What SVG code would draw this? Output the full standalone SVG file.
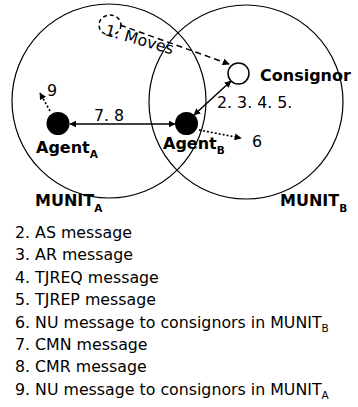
<svg xmlns="http://www.w3.org/2000/svg" width="358" height="407" viewBox="0 0 358 407">
<defs>
<marker id="ah" viewBox="0 0 10 10" refX="9" refY="5" markerWidth="7" markerHeight="7" markerUnits="userSpaceOnUse" orient="auto-start-reverse">
<path d="M0,0 L10,5 L0,10 Z" fill="#000"/>
</marker>
<style>
.t{font-family:"DejaVu Sans","Verdana",sans-serif;font-size:15.8px;fill:#000}
.b{font-family:"DejaVu Sans","Verdana",sans-serif;font-size:16px;font-weight:bold;fill:#000}
.sub{font-size:10.5px}
.zone{fill:none;stroke:#000;stroke-width:1.2}
.solid{fill:none;stroke:#000;stroke-width:1.5}
.dot{fill:none;stroke:#000;stroke-width:1.6;stroke-dasharray:2,2}
.dash{fill:none;stroke:#000;stroke-width:1.5;stroke-dasharray:6,4}
</style>
</defs>
<rect width="358" height="407" fill="#fff"/>
<g id="munitA">
<circle class="zone" cx="109" cy="101" r="97"/>
<text class="b" x="35" y="206">MUNIT<tspan class="sub" dy="6">A</tspan></text>
</g>
<g id="munitB">
<circle class="zone" cx="246" cy="102" r="97"/>
<text class="b" x="280" y="206">MUNIT<tspan class="sub" dy="6">B</tspan></text>
</g>
<g id="connectors">
<line class="solid" x1="70" y1="124" x2="175" y2="124" marker-start="url(#ah)" marker-end="url(#ah)"/>
<line class="solid" x1="194" y1="115" x2="231" y2="81" marker-start="url(#ah)" marker-end="url(#ah)"/>
<line class="dot" x1="50" y1="111" x2="40" y2="93" marker-end="url(#ah)"/>
<line class="dot" x1="199" y1="130" x2="241" y2="138" marker-end="url(#ah)"/>
<line class="dash" x1="120" y1="25" x2="229" y2="64" marker-end="url(#ah)"/>
</g>
<g id="labels">
<text class="t" x="94" y="121">7. 8</text>
<text class="t" x="217" y="108">2. 3. 4. 5.</text>
<text class="t" x="47" y="96">9</text>
<text class="t" x="252" y="147">6</text>
<text class="t" transform="translate(104,35) rotate(16)">1. Moves</text>
</g>
<g id="ghost">
<ellipse cx="110" cy="25" rx="11" ry="10" class="dash" style="stroke-dasharray:4,3"/>
</g>
<g id="agentA">
<circle cx="58" cy="123.5" r="11.5" fill="#000"/>
<text class="b" x="36" y="153">Agent<tspan class="sub" dy="5">A</tspan></text>
</g>
<g id="agentB">
<circle cx="186.5" cy="123.5" r="11.5" fill="#000"/>
<text class="b" x="163" y="149">Agent<tspan class="sub" dy="5">B</tspan></text>
</g>
<g id="consignor">
<circle cx="238.5" cy="73.5" r="10.5" fill="#fff" stroke="#000" stroke-width="1.5"/>
<text class="b" x="260" y="81">Consignor</text>
</g>
<g id="legend">
<text class="t" x="15" y="238">2. AS message</text>
<text class="t" x="15" y="260.4">3. AR message</text>
<text class="t" x="15" y="282.8">4. TJREQ message</text>
<text class="t" x="15" y="305.2">5. TJREP message</text>
<text class="t" x="15" y="327.6">6. NU message to consignors in MUNIT<tspan class="sub" dy="4">B</tspan></text>
<text class="t" x="15" y="350">7. CMN message</text>
<text class="t" x="15" y="372.4">8. CMR message</text>
<text class="t" x="15" y="394.8">9. NU message to consignors in MUNIT<tspan class="sub" dy="4">A</tspan></text>
</g>
</svg>
